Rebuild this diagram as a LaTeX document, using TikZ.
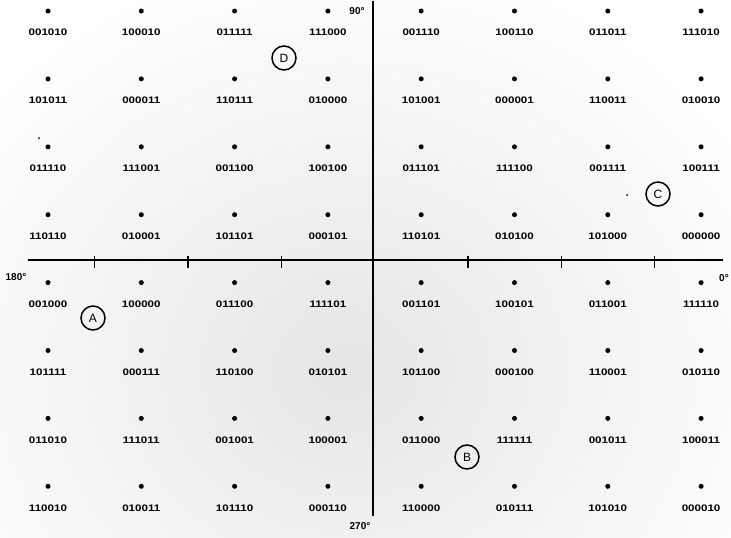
\documentclass[tikz,border=0pt]{standalone}
\usepackage{fontspec}
\setmainfont{Liberation Sans}
\newcommand{\bitlab}[1]{\scalebox{1.22}[1]{#1}}
\begin{document}
\begin{tikzpicture}[x=1pt,y=-1pt,
  ptdot/.style={circle,fill=black,inner sep=0pt,minimum size=5pt},
  speck/.style={circle,fill=black,inner sep=0pt,minimum size=2pt},
  bits/.style={inner sep=0pt,font=\fontsize{9.5}{10}\selectfont\bfseries},
  deglab/.style={inner sep=0pt,font=\fontsize{10}{10}\selectfont\bfseries},
  axisline/.style={line width=1.5pt,black},
  tickline/.style={line width=1.1pt,black},
  region/.style={circle,draw=black,line width=1.5pt,minimum size=24pt,inner sep=0pt,font=\fontsize{12}{12}\selectfont}]
\useasboundingbox (0,0) rectangle (731,538);
\fill[white] (0,0) rectangle (731,538);
% faint scan stipple
\begin{scope}
\clip (0,0) rectangle (731,538);
\shade[inner color=black!10,outer color=white] (345,370) ellipse (470 and 420);
\end{scope}
% axes
\coordinate (vtop) at (373,1);
\coordinate (vbot) at (373,516);
\coordinate (hleft) at (28,260);
\coordinate (hright) at (723,260);
\draw[axisline] (vtop) -- (vbot);
\draw[line width=1.2pt] (hleft) -- (hright);
\foreach \tx [count=\k] in {94.5,188,281.5,468,561.5,654.5}{
  \coordinate (tu\k) at (\tx,256);
  \coordinate (td\k) at (\tx,268);
  \draw[tickline] (tu\k) -- (td\k);
}
% constellation
\foreach \row [count=\r] in {
  {001010,100010,011111,111000,001110,100110,011011,111010},
  {101011,000011,110111,010000,101001,000001,110011,010010},
  {011110,111001,001100,100100,011101,111100,001111,100111},
  {110110,010001,101101,000101,110101,010100,101000,000000},
  {001000,100000,011100,111101,001101,100101,011001,111110},
  {101111,000111,110100,010101,101100,000100,110001,010110},
  {011010,111011,001001,100001,011000,111111,001011,100011},
  {110010,010011,101110,000110,110000,010111,101010,000010}}{
  \foreach \lab [count=\c] in \row {
    \node[ptdot] (p\r-\c) at ({48+93.3*(\c-1)},{11+67.9*(\r-1)}) {};
    \node[bits] (l\r-\c) at ({48+93.3*(\c-1)},{32.5+67.9*(\r-1)}) {\bitlab{\lab}};
  }
}
% angle labels
\node[deglab] (a90) at (357,11) {90°};
\node[deglab] (a180) at (16,277) {180°};
\node[deglab] (a0) at (724,278) {0°};
\node[deglab] (a270) at (360,526) {270°};
% region markers
\node[region] (rA) at (93,318) {A};
\node[region] (rB) at (467,457) {B};
\node[region] (rC) at (658,194) {C};
\node[region] (rD) at (284,58) {D};
% stray specks
\node[speck] (s1) at (39,138) {};
\node[speck] (s2) at (627,195) {};
\end{tikzpicture}
\end{document}
